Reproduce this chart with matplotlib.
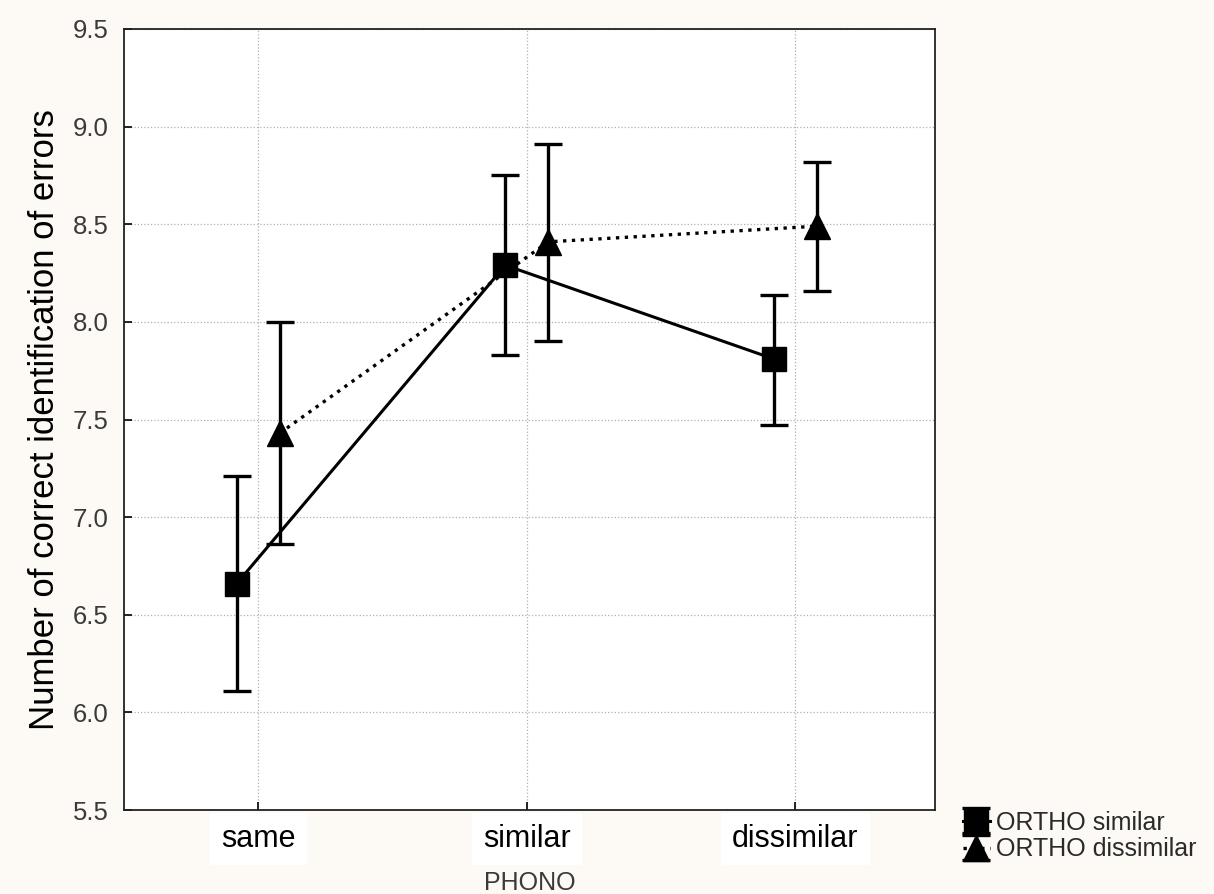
import numpy as np
import matplotlib.pyplot as plt

# PHONO levels on the x axis
categories = ['same', 'similar', 'dissimilar']

# ORTHO similar (squares, solid line)
sim_mean = [6.66, 8.29, 7.81]
sim_low = [6.11, 7.83, 7.47]
sim_high = [7.21, 8.75, 8.14]

# ORTHO dissimilar (triangles, dotted line)
dis_mean = [7.43, 8.41, 8.49]
dis_low = [6.86, 7.90, 8.16]
dis_high = [8.00, 8.91, 8.82]

y_ticks = [5.5, 6.0, 6.5, 7.0, 7.5, 8.0, 8.5, 9.0, 9.5]

plt.rcParams['font.family'] = ['Liberation Sans', 'DejaVu Sans']

fig = plt.figure(figsize=(12.14, 8.94), dpi=100, facecolor='#FDFAF5')
ax = fig.add_axes([124 / 1214, 1 - 810 / 894, (935 - 124) / 1214, (810 - 29) / 894])
ax.set_facecolor('white')

x = np.arange(len(categories))
shift = 0.08

def yerr(mean, low, high):
    m = np.array(mean)
    return [m - np.array(low), np.array(high) - m]

h1 = ax.errorbar(x - shift, sim_mean, yerr=yerr(sim_mean, sim_low, sim_high),
                 color='black', linestyle='-', linewidth=2.2, marker='s',
                 markersize=17.5, elinewidth=2.4, capsize=10, capthick=2.4,
                 label='ORTHO similar', zorder=3)
h2 = ax.errorbar(x + shift, dis_mean, yerr=yerr(dis_mean, dis_low, dis_high),
                 color='black', linestyle=':', linewidth=2.4, marker='^',
                 markersize=19, elinewidth=2.4, capsize=10, capthick=2.4,
                 label='ORTHO dissimilar', zorder=3)

ax.set_xlim(-0.5, 2.52)
ax.set_ylim(5.5, 9.5)
ax.set_yticks(y_ticks)
ax.set_yticklabels([f'{v:.1f}' for v in y_ticks])
ax.set_xticks(x)
ax.set_xticklabels(categories)

ax.grid(True, color='#b0b0b0', linestyle=':', linewidth=0.9)
ax.set_axisbelow(True)

for s in ax.spines.values():
    s.set_linewidth(1.3)
    s.set_color('#222222')

ax.tick_params(axis='y', direction='in', length=6, width=1.2, labelsize=18.5,
               labelcolor='#3a3a3a', pad=11)
ax.tick_params(axis='x', direction='in', length=6, width=1.2, labelsize=22,
               labelcolor='black', pad=10)
for lbl in ax.get_xticklabels():
    lbl.set_bbox(dict(facecolor='white', edgecolor='none', pad=8))

ax.set_ylabel('Number of correct identification of errors', fontsize=25)
ax.set_xlabel('PHONO', fontsize=18, color='#3a3a3a', labelpad=12)
ax.yaxis.set_label_coords(-0.078, 0.5)

fig.legend(handles=[h1, h2], labels=['ORTHO similar', 'ORTHO dissimilar'],
           loc='lower left', bbox_to_anchor=(950 / 1214, 1 - 874 / 894),
           frameon=False, fontsize=18, handlelength=1.1, handletextpad=0.25,
           labelspacing=0.12, borderpad=0, labelcolor='#2a2a2a')

fig.savefig('out.png', dpi=100, facecolor=fig.get_facecolor())
